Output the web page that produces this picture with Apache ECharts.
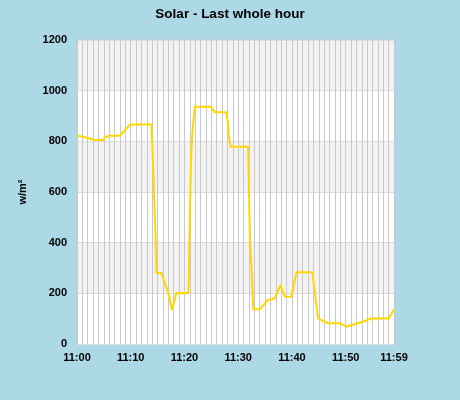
<!DOCTYPE html>
<html>
<head>
<meta charset="utf-8">
<script src="https://cdn.jsdelivr.net/npm/echarts@6/dist/echarts.min.js"></script>
<style>
html,body{margin:0;padding:0;background:#add8e6;}
#chart{width:460px;height:400px;}
</style>
</head>
<body>
<div id="chart"></div>
<script>
// Minutes after 11:00 at which the solar reading was sampled
var minutes = [0.0, 1.17, 2.1, 3.35, 4.9, 5.2, 5.8, 8.0, 9.85, 13.85, 13.95, 14.15, 14.4, 14.6, 14.8, 15.75, 16.35, 17.0, 17.7, 18.5, 20.7, 20.8, 21.0, 21.25, 21.55, 21.95, 24.9, 25.65, 27.8, 28.1, 28.25, 28.6, 31.85, 32.0, 32.2, 32.5, 32.8, 34.0, 35.55, 36.8, 37.9, 38.7, 39.9, 40.85, 43.8, 44.45, 44.85, 45.2, 46.7, 48.9, 50.15, 51.7, 53.2, 54.8, 58.05, 59.0];
// Solar radiation, w/m²
var solar = [822, 818, 812, 805, 805, 815, 822, 822, 866, 866, 810, 714, 560, 430, 280, 280, 241, 201, 134, 201, 200, 253, 502, 746, 858, 937, 937, 915, 915, 872, 818, 779, 779, 608, 398, 292, 137, 137, 174, 180, 233, 187, 187, 283, 283, 174, 101, 95, 82, 82, 68, 79, 88, 101, 101, 137];
// Minutes that carry an x-axis label
var labelMinutes = [0, 10, 20, 30, 40, 50, 59];
var yTicks = [0, 200, 400, 600, 800, 1000, 1200];

var pts = minutes.map(function (m, i) { return [m, solar[i]]; });
var chart = echarts.init(document.getElementById('chart'), null, {renderer: 'canvas'});
var font = 'Liberation Sans, Arial, sans-serif';
chart.setOption({
  backgroundColor: '#add8e6',
  animation: false,
  title: {
    text: 'Solar - Last whole hour',
    left: 'center',
    top: 2,
    textStyle: {fontFamily: font, fontSize: 13.5, fontWeight: 'bold', color: '#000'}
  },
  grid: {
    left: 77, right: 66, top: 40, bottom: 56,
    show: true, borderColor: '#cccccc', borderWidth: 1, backgroundColor: '#ffffff'
  },
  xAxis: {
    type: 'value',
    min: 0, max: 59, interval: 1,
    axisLine: {show: false},
    axisTick: {show: false},
    splitLine: {show: true, lineStyle: {color: '#c8c8c8', width: 1}},
    axisLabel: {
      margin: 8,
      fontFamily: font, fontSize: 11, fontWeight: 'bold', color: '#000',
      formatter: function (v) {
        if (labelMinutes.indexOf(v) < 0) return '';
        return '11:' + (v < 10 ? '0' + v : v);
      }
    }
  },
  yAxis: {
    type: 'value',
    min: yTicks[0], max: yTicks[yTicks.length - 1], interval: 200,
    name: 'w/m²',
    nameLocation: 'middle',
    nameRotate: 90,
    nameGap: 49,
    nameTextStyle: {fontFamily: font, fontSize: 11, fontWeight: 'bold', color: '#000'},
    axisLine: {show: false},
    axisTick: {show: false},
    splitLine: {show: true, lineStyle: {color: '#dddddd', width: 1}},
    splitArea: {show: true, areaStyle: {color: ['#ffffff', '#f2f2f2']}},
    axisLabel: {
      margin: 10, fontFamily: font, fontSize: 11, fontWeight: 'bold', color: '#000',
      formatter: function (v) { return String(v); }
    }
  },
  series: [{
    type: 'line',
    data: pts,
    showSymbol: false,
    smooth: false,
    lineStyle: {color: '#ffd700', width: 2},
    itemStyle: {color: '#ffd700'}
  }]
});
</script>
</body>
</html>
